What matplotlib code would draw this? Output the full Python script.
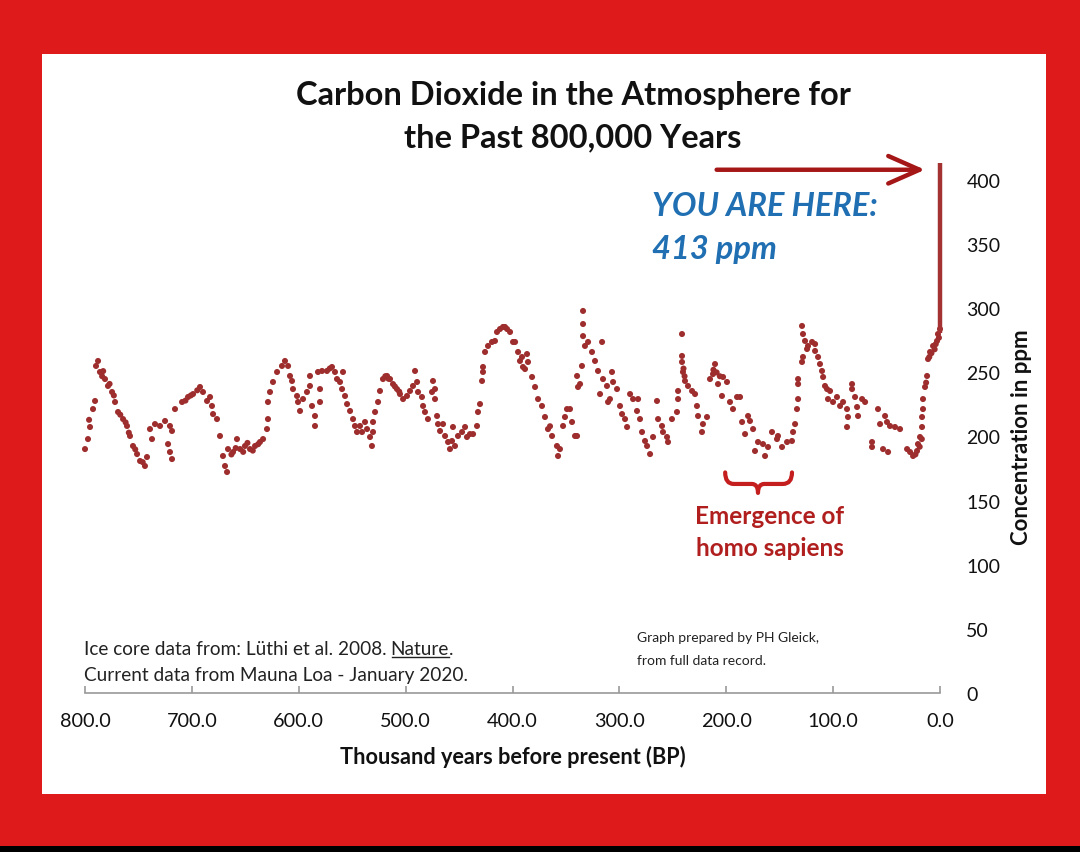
import matplotlib
matplotlib.use("Agg")
import matplotlib.pyplot as plt
from matplotlib.patches import Rectangle, PathPatch
from matplotlib.path import Path
from matplotlib.lines import Line2D
import numpy as np

# ---------------- data (thousand years BP, ppm) ----------------
age_c1 = [800.0, 797.2, 796.2, 795.3, 792.5, 790.6, 789.7, 787.8, 786.0, 784.0, 783.0, 781.3, 778.5,
          777.0, 774.7, 773.0, 771.9, 769.1, 767.0, 764.4, 762.0, 760.7, 759.0, 757.9, 755.1, 753.0,
          751.3, 748.5, 746.0, 743.9, 742.0, 739.2, 737.3, 734.5, 729.8, 725.1, 722.3, 720.5, 720.5,
          718.6, 718.6, 715.8, 709.2, 706.0, 703.6, 701.0, 698.9, 695.0, 692.4, 689.6, 685.8, 683.0,
          681.2, 680.2, 676.5]
co2_c1 = [190.2, 198.0, 213.0, 207.4, 221.4, 227.7, 255.0, 258.9, 250.3, 247.0, 251.0, 244.8, 239.4,
          241.0, 234.7, 232.0, 226.9, 219.1, 217.0, 213.6, 211.0, 208.2, 203.0, 200.4, 192.6, 190.0,
          186.3, 180.9, 180.0, 177.0, 184.0, 205.8, 198.0, 209.7, 208.2, 212.1, 194.1, 208.2, 187.9,
          204.3, 182.4, 221.4, 226.9, 228.0, 230.8, 232.0, 233.1, 236.0, 238.6, 234.7, 227.7, 230.8,
          223.8, 217.5, 213.6]

age_c2 = [673.7, 670.9, 669.0, 667.1, 666.2, 663.0, 661.5, 659.0, 657.8, 654.9, 652.0, 650.3, 648.0,
          645.6, 643.0, 640.9, 638.0, 636.3, 633.4, 629.7, 628.8, 628.8, 626.9, 624.1, 620.3, 615.7,
          612.9, 610.0, 608.2, 606.3, 605.4, 601.6, 600.7, 598.8, 596.0, 592.3, 589.5, 589.5, 587.6,
          584.8, 584.8, 582.0, 580.1, 580.1, 578.2, 573.6, 571.0, 568.9, 566.1, 564.2, 561.4, 559.5,
          558.6, 556.7, 554.8, 552.0, 549.2, 547.4, 545.5]
co2_c2 = [200.4, 184.8, 177.0, 172.3, 190.2, 186.0, 187.9, 191.0, 198.0, 190.2, 188.0, 192.6, 195.0,
          190.2, 189.0, 192.6, 194.0, 195.7, 198.0, 205.8, 213.6, 226.9, 234.7, 242.5, 250.3, 255.0,
          258.9, 255.0, 247.2, 243.3, 237.0, 231.6, 226.9, 219.9, 229.2, 234.7, 247.2, 239.4, 223.8,
          216.0, 208.2, 250.3, 237.0, 226.9, 251.1, 251.1, 253.0, 254.2, 250.3, 244.8, 242.5, 237.0,
          250.3, 231.6, 225.3, 219.9, 213.6, 208.2, 203.5]

age_c3 = [542.7, 540.8, 538.0, 536.1, 533.3, 531.5, 530.5, 530.5, 528.6, 525.8, 524.0, 521.2, 519.0,
          517.4, 516.0, 514.6, 511.8, 510.0, 508.1, 506.0, 505.3, 502.4, 498.7, 495.9, 493.1, 491.2,
          489.3, 488.4, 484.7, 483.7, 481.9, 479.1, 475.3, 474.4, 472.5, 472.5, 470.6, 469.7, 467.8,
          465.0, 463.1, 460.3, 458.5, 456.6, 455.7, 453.8, 451.0, 447.2, 444.4, 442.6, 439.8, 436.9,
          433.2, 432.3, 430.4, 428.5, 427.6, 427.6, 425.7, 422.9, 419.2, 416.4, 414.5]
co2_c3 = [208.2, 203.5, 211.3, 205.8, 199.6, 192.6, 203.5, 211.3, 219.1, 226.9, 235.5, 244.8, 247.0,
          247.2, 245.0, 244.8, 240.9, 239.0, 237.0, 235.0, 233.1, 229.2, 231.6, 235.5, 239.4, 251.1,
          242.5, 234.7, 230.8, 223.8, 219.1, 213.6, 234.7, 243.3, 237.0, 229.2, 216.0, 209.7, 204.3,
          209.7, 200.4, 195.7, 190.2, 196.5, 207.4, 192.6, 200.4, 203.5, 207.4, 199.6, 201.9, 201.9,
          208.2, 219.1, 225.3, 243.3, 250.3, 254.2, 265.9, 270.6, 273.7, 274.5, 281.5]

age_c4 = [411.7, 408.9, 407.0, 405.1, 402.3, 399.5, 397.6, 394.8, 393.0, 391.1, 390.2, 388.3, 386.4,
          385.5, 381.7, 378.9, 376.1, 372.4, 369.6, 366.8, 364.9, 363.0, 358.4, 357.4, 355.6, 352.7,
          350.9, 349.0, 346.2, 344.3, 341.5, 339.6, 339.6, 338.7, 336.8, 335.0, 334.0, 334.0, 334.0,
          332.2, 329.3, 325.6, 322.8, 320.0, 318.1, 316.2, 315.3, 311.6, 310.6, 308.8, 306.9, 305.9,
          302.2, 299.4, 297.5, 294.7, 292.8, 290.0, 287.2, 283.5]
co2_c4 = [283.8, 285.4, 285.4, 283.8, 281.5, 273.7, 273.7, 265.9, 258.9, 262.0, 254.2, 252.6, 264.3,
          258.1, 246.4, 238.6, 229.2, 223.8, 215.2, 205.8, 208.0, 200.4, 192.6, 184.8, 190.2, 208.2,
          215.2, 221.4, 221.4, 211.3, 200.4, 200.4, 247.2, 238.6, 240.9, 255.0, 297.9, 287.7, 278.3,
          270.6, 273.7, 265.9, 258.9, 251.1, 233.1, 273.7, 244.8, 239.4, 226.9, 229.2, 250.3, 242.5,
          237.0, 223.8, 217.5, 213.6, 207.4, 233.1, 229.2, 219.9]

age_c5 = [282.5, 280.7, 278.8, 276.0, 274.1, 271.3, 268.5, 264.8, 263.8, 260.1, 259.2, 255.4, 254.5,
          250.8, 246.1, 245.1, 245.1, 241.4, 241.4, 241.4, 240.5, 240.0, 239.0, 238.6, 235.8, 232.0,
          229.2, 227.4, 226.4, 222.7, 221.8, 218.0, 215.2, 212.4, 212.0, 210.5, 209.0, 207.7, 206.0,
          204.0, 203.0, 199.3, 196.5, 193.7, 189.9, 187.1, 185.2, 182.4, 179.6, 177.8, 174.9, 173.1,
          170.3, 165.6, 163.7, 160.9, 157.2, 152.5]
co2_c5 = [229.2, 213.6, 203.5, 196.5, 192.6, 186.3, 199.6, 227.7, 213.6, 208.2, 203.5, 199.6, 195.7,
          213.6, 219.1, 235.5, 229.2, 279.9, 262.8, 258.1, 250.3, 253.0, 247.0, 243.3, 239.4, 235.5,
          233.1, 223.8, 216.0, 203.5, 209.7, 215.2, 244.8, 248.7, 252.0, 256.5, 250.0, 240.9, 247.0,
          231.6, 246.4, 242.5, 226.9, 221.4, 230.8, 230.8, 211.3, 201.9, 216.0, 212.1, 205.8, 188.7,
          195.7, 194.1, 184.8, 191.8, 203.5, 198.0]

age_c6 = [151.6, 147.8, 143.1, 138.5, 137.5, 135.6, 133.8, 132.8, 132.8, 132.8, 129.1, 129.1, 128.2,
          128.2, 126.3, 124.4, 123.5, 119.7, 116.9, 116.9, 114.1, 112.3, 110.4, 109.4, 107.6, 105.7,
          104.8, 102.9, 100.1, 96.4, 93.5, 90.7, 87.0, 87.0, 86.1, 82.3, 82.3, 79.5, 77.6, 76.7,
          72.9, 70.1, 63.6, 63.6, 58.0, 56.1, 53.3, 51.4, 49.6, 48.6, 46.8, 42.1, 37.4, 30.8, 28.0,
          25.2, 23.0, 21.5, 20.6, 19.0, 18.7, 17.0, 16.8, 16.8, 15.9, 15.9, 14.0, 13.0, 12.1, 11.2,
          10.0, 9.3, 8.0, 6.5, 5.0, 4.0, 2.8, 1.9, 1.0, 0.0]
co2_c6 = [200.4, 191.8, 195.7, 196.5, 203.5, 209.7, 221.4, 229.2, 240.9, 244.8, 286.2, 258.1, 279.9,
          262.0, 274.5, 268.2, 270.6, 273.7, 272.1, 266.7, 262.0, 256.5, 251.1, 246.4, 239.4, 237.0,
          229.2, 235.5, 226.9, 230.8, 223.8, 226.9, 221.4, 207.4, 215.2, 240.9, 237.0, 230.8, 223.0,
          216.0, 229.2, 226.9, 195.7, 191.8, 221.4, 209.7, 190.2, 216.0, 211.3, 187.9, 208.2, 207.4,
          205.8, 190.2, 187.9, 184.8, 186.0, 188.7, 194.1, 192.0, 199.6, 198.0, 207.4, 215.2, 221.4,
          229.2, 238.6, 242.0, 247.2, 260.4, 262.0, 265.9, 265.0, 270.6, 268.0, 272.0, 274.5, 279.9,
          277.0, 283.8]

current_age = [0.0, 0.0]
current_co2 = [281.0, 413.0]

x_ticks = [800, 700, 600, 500, 400, 300, 200, 100, 0]
y_ticks = [0, 50, 100, 150, 200, 250, 300, 350, 400]

ages = np.array(age_c1 + age_c2 + age_c3 + age_c4 + age_c5 + age_c6)
co2 = np.array(co2_c1 + co2_c2 + co2_c3 + co2_c4 + co2_c5 + co2_c6)

# ---------------- figure ----------------
W, H = 1080, 853
fig = plt.figure(figsize=(W / 100, H / 100), dpi=100, facecolor="#df1a1a")

def fx(px):
    return px / W

def fy(py):
    return 1 - py / H

# white panel and black strip (behind the axes)
fig.patches.append(Rectangle((fx(42), fy(795)), fx(1046) - fx(42), fy(55) - fy(795),
                             transform=fig.transFigure, facecolor="white", edgecolor="none", zorder=-5))
fig.patches.append(Rectangle((0, 0), 1, fy(847), transform=fig.transFigure,
                             facecolor="black", edgecolor="none", zorder=-5))

ax = fig.add_axes([fx(85), fy(694), fx(940) - fx(85), (450 * 1.2825) / H])
ax.patch.set_visible(False)
ax.set_xlim(800, 0)
ax.set_ylim(0, 450)

dark_red = "#9e2e2e"
ax.scatter(ages, co2, s=19, color=dark_red, edgecolors="none", zorder=3, clip_on=False)
ax.plot(current_age, current_co2, color="#a43232", lw=3.2, solid_capstyle="butt", zorder=4, clip_on=False)

FONT = "Lato"
gray = "#9a9a9a"
for s in ["top", "left", "right"]:
    ax.spines[s].set_visible(False)
ax.spines["bottom"].set_color(gray)
ax.spines["bottom"].set_linewidth(1.2)

ax.set_xticks(x_ticks)
ax.set_xticklabels([f"{v:.1f}" for v in x_ticks], fontsize=14.3, family=FONT, color="#111111")
ax.tick_params(axis="x", direction="in", length=5, width=1.2, color=gray, pad=14)

ax.yaxis.tick_right()
ax.set_yticks(y_ticks)
ax.set_yticklabels([str(v) for v in y_ticks], fontsize=14, family=FONT, color="#111111")
ax.tick_params(axis="y", length=0, pad=19)

ax.set_xlabel("Thousand years before present (BP)", fontsize=15.6, fontweight="bold",
              family=FONT, labelpad=11, color="#111111")
fig.text(fx(1021), fy(437), "Concentration in ppm", rotation=90, fontsize=16, fontweight="bold",
         family=FONT, ha="center", va="center", color="#111111")

# title
fig.text(fx(573), fy(96), "Carbon Dioxide in the Atmosphere for", fontsize=23.5, fontweight="bold",
         family=FONT, ha="center", va="center", color="#111111")
fig.text(fx(573), fy(138), "the Past 800,000 Years", fontsize=23.5, fontweight="bold",
         family=FONT, ha="center", va="center", color="#111111")

# you are here
blue = "#1f6fb2"
fig.text(fx(652), fy(207), "YOU ARE HERE:", fontsize=23.5, fontweight="bold", style="italic",
         family=FONT, ha="left", va="center", color=blue)
fig.text(fx(652), fy(250), "413 ppm", fontsize=23.5, fontweight="bold", style="italic",
         family=FONT, ha="left", va="center", color=blue)

arrow_red = "#a51616"
ax.annotate("", xy=(14, 408), xytext=(209, 408),
            arrowprops=dict(arrowstyle="->,head_length=0.75,head_width=0.33", color=arrow_red,
                            lw=3.2, shrinkA=0, shrinkB=0, mutation_scale=30),
            annotation_clip=False)

# brace (emergence of homo sapiens)
brace_red = "#c41e1e"
verts = [(201, 172), (201, 163), (193, 163), (176, 163), (170.3, 163), (170.3, 156),
         (170.3, 163), (164.5, 163), (147, 163), (138.5, 163), (138.5, 172)]
codes = [Path.MOVETO, Path.CURVE3, Path.CURVE3, Path.LINETO, Path.CURVE3, Path.CURVE3,
         Path.CURVE3, Path.CURVE3, Path.LINETO, Path.CURVE3, Path.CURVE3]
ax.add_patch(PathPatch(Path(verts, codes), facecolor="none", edgecolor=brace_red, lw=3,
                       capstyle="round", joinstyle="round", clip_on=False))
fig.text(fx(770), fy(517), "Emergence of", fontsize=17.5, fontweight="bold", family=FONT,
         ha="center", va="center", color="#b01e1e")
fig.text(fx(770), fy(549), "homo sapiens", fontsize=17.5, fontweight="bold", family=FONT,
         ha="center", va="center", color="#b01e1e")

# source notes
fig.canvas.draw()
r = fig.canvas.get_renderer()
NOTE = 13.7
t1 = fig.text(fx(84), fy(650), "Ice core data from: Lüthi et al. 2008.", fontsize=NOTE,
              family=FONT, ha="left", va="center", color="#222222")
bb1 = t1.get_window_extent(r)
t2 = fig.text((bb1.x1 + 4) / W, fy(650), "Nature", fontsize=NOTE, family=FONT,
              ha="left", va="center", color="#222222")
bb2 = t2.get_window_extent(r)
fig.text(bb2.x1 / W, fy(650), ".", fontsize=NOTE, family=FONT, ha="left", va="center",
         color="#222222")
fig.add_artist(Line2D([(bb2.x0 + 1) / W, bb2.x1 / W], [(bb2.y0 + 1) / H] * 2, color="#222222",
                      lw=1.0, transform=fig.transFigure))
fig.text(fx(84), fy(676), "Current data from Mauna Loa - January 2020.", fontsize=NOTE,
         family=FONT, ha="left", va="center", color="#222222")

fig.text(fx(637), fy(638), "Graph prepared by PH Gleick,", fontsize=10, family=FONT,
         ha="left", va="center", color="#222222")
fig.text(fx(637), fy(661), "from full data record.", fontsize=10, family=FONT,
         ha="left", va="center", color="#222222")

fig.savefig("out.png", dpi=100, facecolor=fig.get_facecolor())
